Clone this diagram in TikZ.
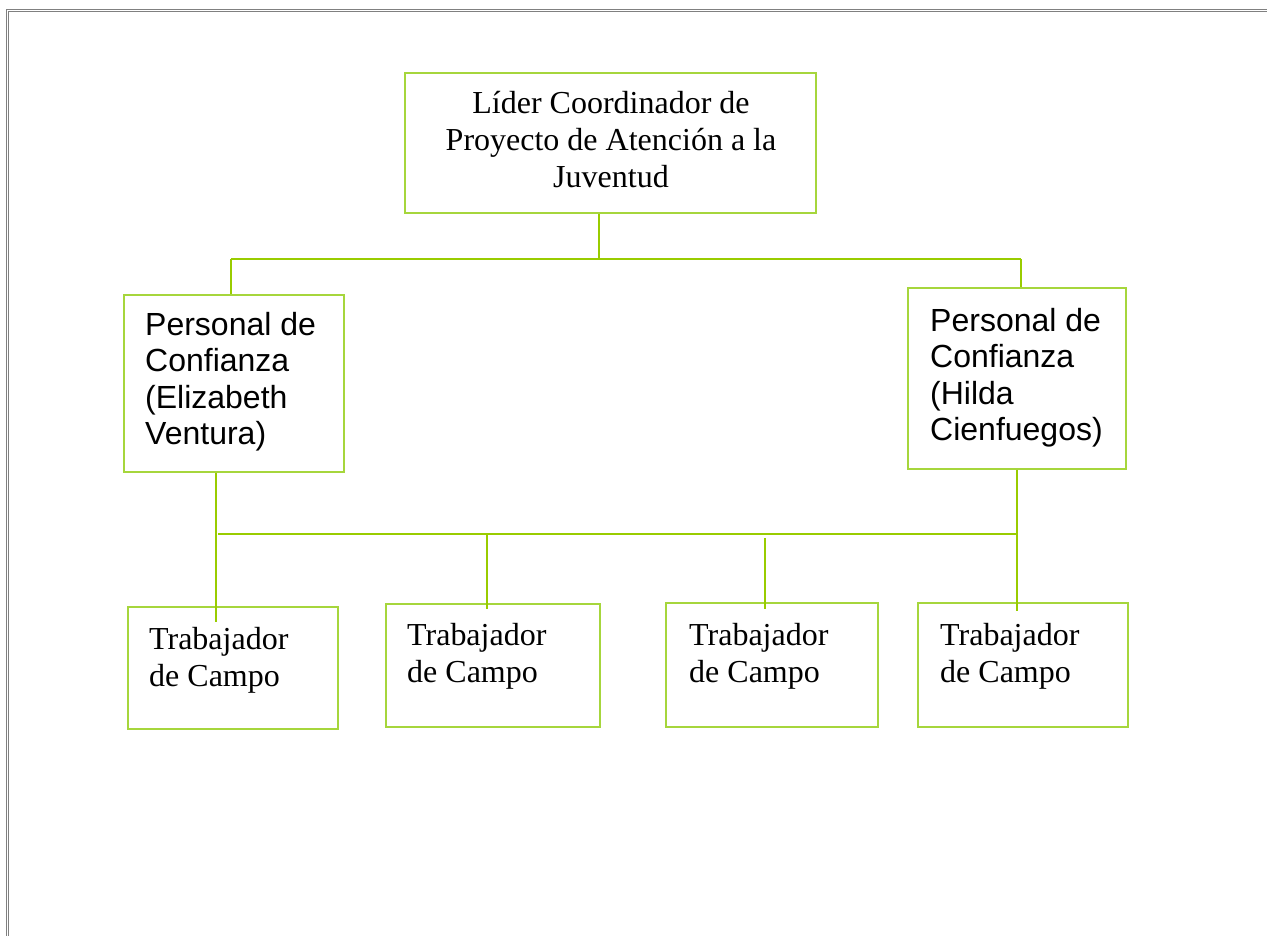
\documentclass[tikz,border=0pt]{standalone}
\usepackage{fontspec}
\setmainfont{Liberation Serif}
\newfontfamily\arialish{Liberation Sans}
\definecolor{conngreen}{RGB}{153,204,0}
\definecolor{boxgreen}{RGB}{166,214,60}
\definecolor{framegray}{RGB}{128,128,128}
\begin{document}
\begin{tikzpicture}[x=1pt,y=-1pt,
  box/.style={draw=boxgreen, line width=1.4pt, rectangle, inner sep=0pt},
  conn/.style={draw=conngreen, line width=2pt},
  serif/.style={inner sep=0pt, font=\fontsize{32}{37}\selectfont},
  sans/.style={inner sep=0pt, font=\arialish\fontsize{32}{36.5}\selectfont, align=left, anchor=base west},
  frame/.style={draw=framegray, line width=1pt}]
\useasboundingbox (0,0) rectangle (1267,936);
% page frame
\draw[frame] (6.5,936) -- (6.5,9.5) -- (1267,9.5);
\draw[frame] (8.8,936) -- (8.8,11.8) -- (1267,11.8);
% boxes
\node[box, minimum width=411pt, minimum height=140pt] (T) at (610.5,143) {};
\node[box, minimum width=220pt, minimum height=177pt] (P1) at (234,383.5) {};
\node[box, minimum width=218pt, minimum height=181pt] (P2) at (1017,378.5) {};
\node[box, minimum width=210pt, minimum height=122pt] (W1) at (233,668) {};
\node[box, minimum width=214pt, minimum height=123pt] (W2) at (493,665.5) {};
\node[box, minimum width=212pt, minimum height=124pt] (W3) at (772,665) {};
\node[box, minimum width=210pt, minimum height=124pt] (W4) at (1023,665) {};
% texts (base anchor = baseline of last line)
\node[serif, align=center, anchor=base] (tT) at (611,188) {Líder Coordinador de\\Proyecto de Atención a la\\Juventud};
\node[sans] (tP1) at (145,444.5) {Personal de\\Confianza\\(Elizabeth\\Ventura)};
\node[sans] (tP2) at (930,440.5) {Personal de\\Confianza\\(Hilda\\Cienfuegos)};
\node[serif, align=left, anchor=base west] (tW1) at (149,686) {Trabajador\\de Campo};
\node[serif, align=left, anchor=base west] (tW2) at (407,682) {Trabajador\\de Campo};
\node[serif, align=left, anchor=base west] (tW3) at (689,682) {Trabajador\\de Campo};
\node[serif, align=left, anchor=base west] (tW4) at (940,682) {Trabajador\\de Campo};
% upper connectors
\coordinate (hM) at (599,259);
\coordinate (hL) at (231,259);
\coordinate (hR) at (1021,259);
\draw[conn] (T.south -| hM) -- (hM);
\draw[conn] (hL) -- (hR);
\draw[conn] (hL) -- (hL |- P1.north);
\draw[conn] (hR) -- (hR |- P2.north);
% lower connectors
\coordinate (vA) at (216,622);
\coordinate (vB) at (487,609);
\coordinate (vC) at (765,609);
\coordinate (vD) at (1017,611);
\coordinate (hl2) at (218,534);
\coordinate (hr2) at (1017,534);
\draw[conn] (vA |- P1.south) -- (vA);
\draw[conn] (hl2) -- (hr2);
\draw[conn] (vD |- P2.south) -- (vD);
\draw[conn] (487,534) -- (vB);
\draw[conn] (765,538) -- (vC);
\end{tikzpicture}
\end{document}
